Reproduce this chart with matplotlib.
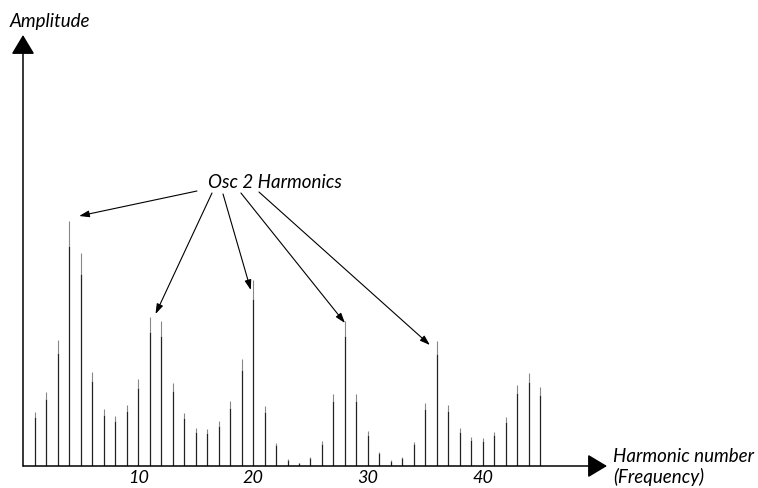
import numpy as np
import matplotlib.pyplot as plt

# harmonic spectrum (amplitude in arbitrary units)
harmonics = np.arange(1, 46)
amplitude = [54, 74, 126, 245, 213, 94, 57, 50, 61, 87,
             149, 145, 83, 53, 38, 37, 45, 65, 107, 186,
             60, 23, 7, 3, 9, 25, 72, 145, 72, 35,
             14, 6, 9, 24, 63, 125, 61, 38, 29, 28,
             34, 49, 81, 93, 79]
tick_values = [10, 20, 30, 40]
osc2_targets = [4, 11, 20, 28, 36]

plt.rcParams['font.family'] = ['Lato', 'DejaVu Sans']

fig = plt.figure(figsize=(7.58, 4.88), dpi=100)
ax = fig.add_axes([23 / 758, 22 / 488, 584 / 758, 431 / 488])
ax.set_xlim(-0.045, 50.83)
ax.set_ylim(0, 431)

amp = np.array(amplitude)
ax.vlines(harmonics, 0, amp * 0.9, color='#222222', lw=0.9)
ax.vlines(harmonics, amp * 0.9, amp, color='#888888', lw=0.8)

for s in ax.spines.values():
    s.set_visible(False)
ax.set_yticks([])
ax.set_xticks(tick_values)
ax.set_xticklabels([str(t) for t in tick_values], fontsize=13, style='italic')
ax.tick_params(axis='x', length=0, pad=3)

# axis arrows
head = dict(arrowstyle='-|>,head_length=0.6,head_width=0.36', color='black',
            lw=1.1, shrinkA=0, shrinkB=0, mutation_scale=20)
ax.annotate('', xy=(0, 1), xytext=(0, 0), xycoords='axes fraction',
            textcoords='axes fraction', arrowprops=head, annotation_clip=False)
ax.annotate('', xy=(1, 0), xytext=(0, 0), xycoords='axes fraction',
            textcoords='axes fraction', arrowprops=head, annotation_clip=False)

lab = dict(transform=ax.transAxes, ha='left', va='baseline', fontsize=13.5,
           style='italic', clip_on=False)
ax.text(-0.0223, 1.0186, 'Amplitude', **lab)
ax.text(1.0103, 0.010, 'Harmonic number', **lab)
ax.text(1.0103, -0.039, '(Frequency)', **lab)

# callout
ax.text(21.86, 278, 'Osc 2 Harmonics', ha='center', va='baseline',
        fontsize=13.5, style='italic')
starts = [(15.11, 275), (16.42, 273), (17.38, 272), (18.94, 273), (20.51, 274)]
offsets = [(0.85, 5), (0.5, 3), (-0.2, -10), (0.0, -2), (-0.6, -4)]
for (sx, sy), n, (dx, dy) in zip(starts, osc2_targets, offsets):
    ax.annotate('', xy=(n + dx, amp[n - 1] + dy), xytext=(sx, sy),
                arrowprops=dict(arrowstyle='-|>,head_length=0.6,head_width=0.2',
                                color='black', lw=0.8, shrinkA=0, shrinkB=0,
                                mutation_scale=10))

fig.savefig('out.png', dpi=100)
